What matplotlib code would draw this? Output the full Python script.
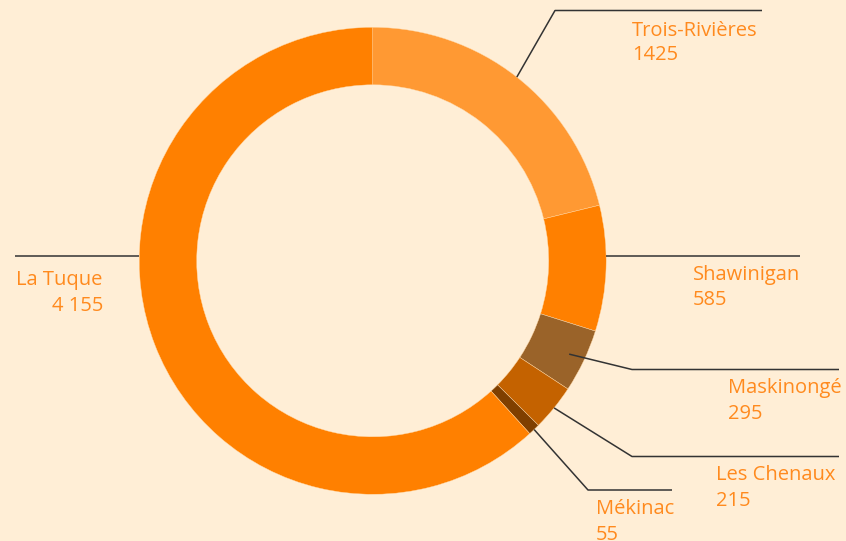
import numpy as np
import matplotlib
matplotlib.use("Agg")
import matplotlib.pyplot as plt

# ---- data ----
categories = ["Trois-Rivières", "Shawinigan", "Maskinongé", "Les Chenaux", "Mékinac", "La Tuque"]
values = [1425, 585, 295, 215, 55, 4155]
value_labels = ["1425", "585", "295", "215", "55", "4 155"]
colors = ["#FF9933", "#FF8000", "#9A6329", "#C46200", "#7F3F00", "#FF8000"]

BG = "#FFEED6"
TXT = "#FF8A1E"
LINE = "#333333"

W, H = 846, 541
fig = plt.figure(figsize=(W / 100, H / 100), dpi=100, facecolor=BG)
ax = fig.add_axes([0, 0, 1, 1])
ax.set_facecolor(BG)

def Y(py):
    return H - py

cx, cy = 372.7, Y(260.8)
R = 233.5
width = 57.5

wedges, _ = ax.pie(values, colors=colors, startangle=90, counterclock=False,
                   radius=R, center=(cx, cy),
                   wedgeprops=dict(width=width, edgecolor="#FFD9A8", linewidth=0.3))
ax.set_xlim(0, W)
ax.set_ylim(0, H)
ax.set_aspect("equal")
ax.axis("off")

def mid_point(i, r):
    w = wedges[i]
    a = np.deg2rad((w.theta1 + w.theta2) / 2)
    return cx + r * np.cos(a), cy + r * np.sin(a)

def circle_x_at(py, side):
    dy = Y(py) - cy
    return cx + side * np.sqrt(R ** 2 - dy ** 2)

# leader lines: (start point, [elbow/end points in pixel coords])
leaders = {
    0: (mid_point(0, R), [(555, 10.5), (762, 10.5)]),
    1: ((circle_x_at(256, 1), Y(256)), [(800, 256)]),
    2: (mid_point(2, R - 16), [(632, 369.5), (839, 369.5)]),
    3: (mid_point(3, R), [(632, 456.5), (839, 456.5)]),
    4: (mid_point(4, R), [(588, 490), (672, 490)]),
    5: ((circle_x_at(256, -1), Y(256)), [(15, 256)]),
}
for i, (start, pts) in leaders.items():
    xs = [start[0]] + [p[0] for p in pts]
    ys = [start[1]] + [Y(p[1]) for p in pts]
    ax.plot(xs, ys, color=LINE, lw=1.1, solid_capstyle="butt", zorder=3)

# labels: (x, baseline of name, baseline of value, ha)
label_pos = {
    0: (632, 36, 60, "left"),
    1: (693, 280, 305, "left"),
    2: (728, 393, 419, "left"),
    3: (716, 480, 506, "left"),
    4: (596, 514, 540, "left"),
}
fs = 14.5
fam = ["Open Sans", "DejaVu Sans"]
for i, (x, b1, b2, ha) in label_pos.items():
    ax.text(x, Y(b1), categories[i], color=TXT, fontsize=fs, family=fam,
            ha=ha, va="baseline")
    ax.text(x, Y(b2), value_labels[i], color=TXT, fontsize=fs, family=fam,
            ha=ha, va="baseline")

# La Tuque (left side)
ax.text(16, Y(285), categories[5], color=TXT, fontsize=fs, family=fam,
        ha="left", va="baseline")
ax.text(103, Y(311), value_labels[5], color=TXT, fontsize=fs, family=fam,
        ha="right", va="baseline")

fig.savefig("out.png", dpi=100, facecolor=BG)
